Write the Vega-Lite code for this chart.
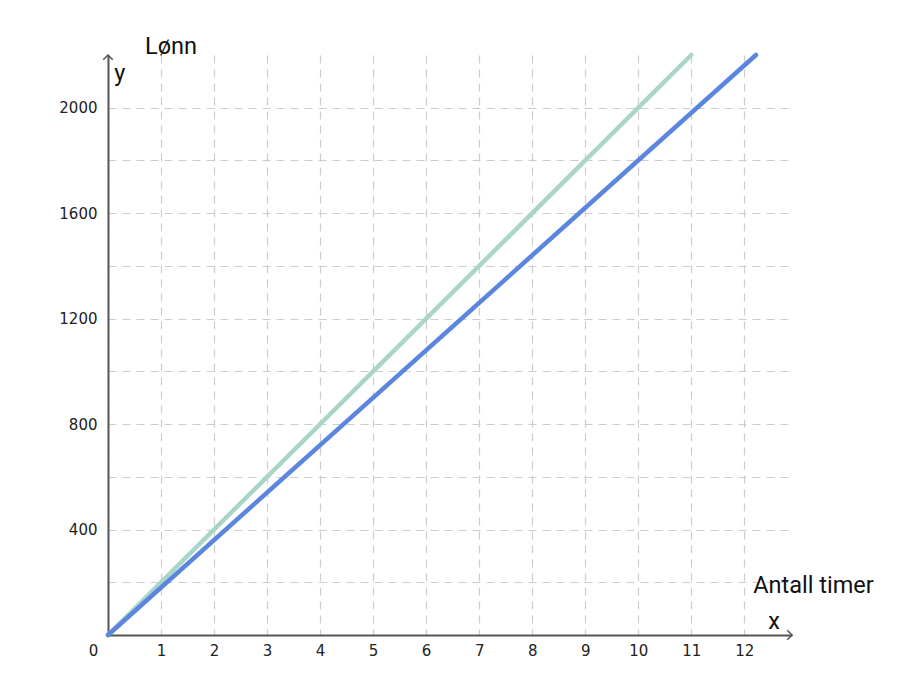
{
  "$schema": "https://vega.github.io/schema/vega-lite/v6.json",
  "width": 684,
  "height": 580,
  "autosize": {"type": "none"},
  "padding": {"left": 108, "top": 55, "right": 123, "bottom": 60},
  "background": "white",
  "datasets": {
    "lines": [
      {"serie": "a", "x": 0, "y": 0},
      {"serie": "a", "x": 11, "y": 2200},
      {"serie": "b", "x": 0, "y": 0},
      {"serie": "b", "x": 12.22, "y": 2200}
    ],
    "arrowUp": [{"x": 0, "y": 2200}],
    "arrowRight": [{"x": 12.9, "y": 0}],
    "labels": [
      {"label": "Lønn", "x": 0.7, "y": 2205},
      {"label": "y", "x": 0.12, "y": 2100},
      {"label": "Antall timer", "x": 12.17, "y": 159},
      {"label": "x", "x": 12.45, "y": 23}
    ]
  },
  "encoding": {
    "x": {
      "field": "x",
      "type": "quantitative",
      "scale": {"domain": [0, 12.9], "nice": false},
      "axis": {
        "values": [0, 1, 2, 3, 4, 5, 6, 7, 8, 9, 10, 11, 12],
        "title": null,
        "labelOffset": {"condition": {"test": "datum.value == 0", "value": -15}, "value": 0},
        "labelPadding": 8
      }
    },
    "y": {
      "field": "y",
      "type": "quantitative",
      "scale": {"domain": [0, 2200], "nice": false},
      "axis": {
        "values": [200, 400, 600, 800, 1000, 1200, 1400, 1600, 1800, 2000],
        "format": "d",
        "labelExpr": "datum.value % 400 == 0 ? datum.label : ''",
        "title": null,
        "labelPadding": 11
      }
    }
  },
  "layer": [
    {
      "data": {"name": "lines"},
      "mark": {"type": "line", "strokeWidth": 4.5, "strokeCap": "round"},
      "encoding": {
        "detail": {"field": "serie"},
        "color": {
          "field": "serie",
          "type": "nominal",
          "scale": {"domain": ["a", "b"], "range": ["#a9d6c6", "#5b86df"]},
          "legend": null
        }
      }
    },
    {
      "data": {"name": "arrowUp"},
      "mark": {"type": "point", "shape": "M-1,1L0,0L1,1", "size": 90, "filled": false, "stroke": "#555", "strokeWidth": 1.5, "opacity": 1}
    },
    {
      "data": {"name": "arrowRight"},
      "mark": {"type": "point", "shape": "M-1,-1L0,0L-1,1", "size": 90, "filled": false, "stroke": "#555", "strokeWidth": 1.5, "opacity": 1}
    },
    {
      "data": {"name": "labels"},
      "mark": {"type": "text", "align": "left", "baseline": "alphabetic", "font": "Roboto", "fontSize": 23.5, "color": "#111"},
      "encoding": {"text": {"field": "label"}}
    }
  ],
  "config": {
    "view": {"stroke": null},
    "axis": {
      "grid": true,
      "gridDash": [8, 6],
      "gridColor": "#cccccc",
      "gridWidth": 1.2,
      "domainColor": "#555555",
      "domainWidth": 2,
      "ticks": false,
      "labelFont": "DejaVu Sans",
      "labelFontSize": 15,
      "labelColor": "#222222",
      "labelFlush": false,
      "labelOverlap": false
    }
  }
}
